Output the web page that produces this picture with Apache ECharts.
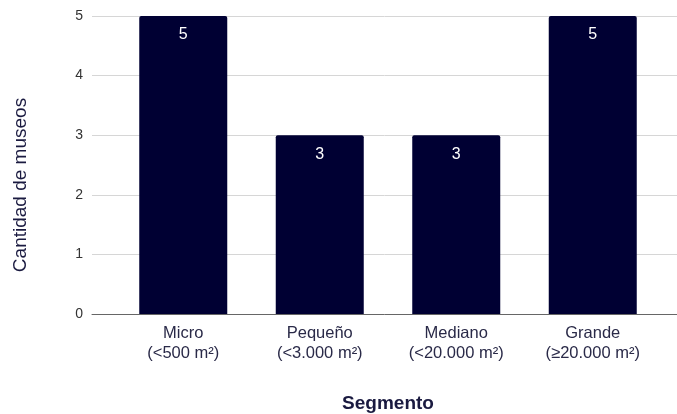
<!DOCTYPE html>
<html>
<head>
<meta charset="utf-8">
<script src="https://cdn.jsdelivr.net/npm/echarts@6/dist/echarts.min.js"></script>
<style>
  html, body { margin: 0; padding: 0; background: #fff; }
  #chart { width: 677px; height: 414px; }
</style>
</head>
<body>
<div id="chart"></div>
<script>
// Museum counts by size segment
const categories = ['Micro\n(<500 m²)', 'Pequeño\n(<3.000 m²)', 'Mediano\n(<20.000 m²)', 'Grande\n(≥20.000 m²)'];
const counts = [5, 3, 3, 5];
const yTicks = [0, 1, 2, 3, 4, 5];

const navy = '#000033';
const textColor = '#1a1a40';
const font = 'Liberation Sans, Arial, sans-serif';

const chart = echarts.init(document.getElementById('chart'));
chart.setOption({
  animation: false,
  grid: [
    // background grid: full-width gridlines and baseline
    { left: 92, right: 0, top: 16, bottom: 100, outerBoundsMode: 'none', containLabel: false },
    // bars and category labels
    { left: 115, right: 16, top: 16, bottom: 100, outerBoundsMode: 'none', containLabel: false }
  ],
  xAxis: [
    {
      gridIndex: 0, type: 'category', data: [''],
      axisLine: { show: true, lineStyle: { color: '#666', width: 1 } },
      axisTick: { show: false }, axisLabel: { show: false }
    },
    {
      gridIndex: 1, type: 'category', data: categories,
      axisLine: { show: false }, axisTick: { show: false },
      axisLabel: { color: '#2a2a48', fontFamily: font, fontSize: 16.5, lineHeight: 20, margin: 9 },
      name: 'Segmento', nameLocation: 'middle', nameGap: 80,
      nameTextStyle: { color: textColor, fontFamily: font, fontSize: 19, fontWeight: 'bold' }
    }
  ],
  yAxis: [
    {
      gridIndex: 0, type: 'value', min: yTicks[0], max: yTicks[yTicks.length - 1], interval: 1,
      axisLine: { show: false }, axisTick: { show: false },
      axisLabel: { color: '#333', fontFamily: font, fontSize: 14, margin: 9 },
      splitLine: { lineStyle: { color: '#d6d6d6', width: 1 } },
      name: 'Cantidad de museos', nameLocation: 'middle', nameGap: 62,
      nameTextStyle: { color: textColor, fontFamily: font, fontSize: 19, padding: [0, 40, 0, 0] }
    },
    {
      gridIndex: 1, type: 'value', min: yTicks[0], max: yTicks[yTicks.length - 1], interval: 1,
      show: false, splitLine: { show: false }
    }
  ],
  series: [
    {
      type: 'bar', xAxisIndex: 1, yAxisIndex: 1, data: counts,
      barWidth: 88,
      itemStyle: { color: navy, borderRadius: [2, 2, 0, 0] },
      label: {
        show: true, position: 'insideTop', distance: 11,
        color: '#fff', fontFamily: font, fontSize: 16
      }
    }
  ]
});
</script>
</body>
</html>
